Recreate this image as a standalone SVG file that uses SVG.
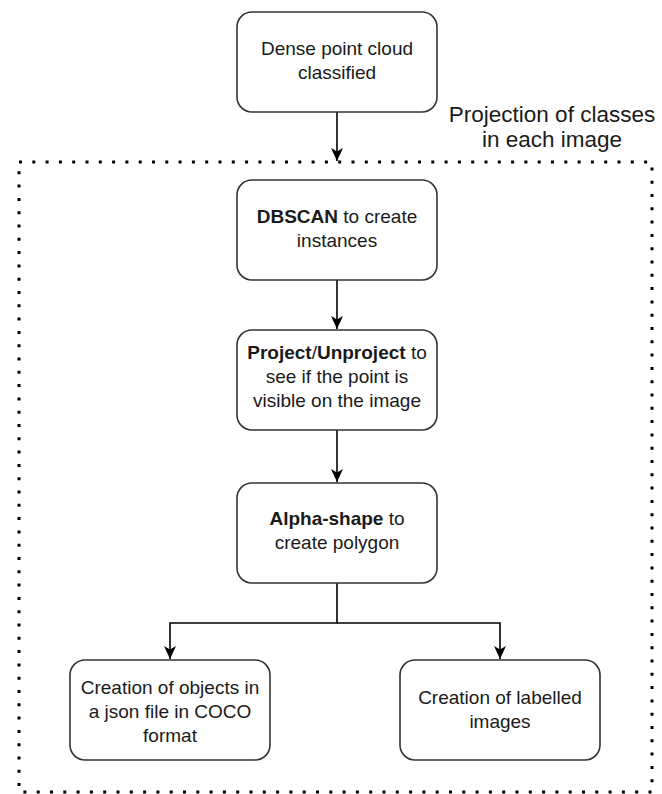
<svg xmlns="http://www.w3.org/2000/svg" width="662" height="794" viewBox="0 0 662 794">
  <style>
    .box { fill: #ffffff; stroke: #333333; stroke-width: 1.6; }
    .lbl { font-family: "Liberation Sans", Arial, sans-serif; font-size: 19px; fill: #1a1a1a; text-anchor: middle; }
    .title { font-family: "Liberation Sans", Arial, sans-serif; font-size: 22.5px; fill: #1a1a1a; text-anchor: middle; }
    .b { font-weight: bold; }
    .edge { fill: none; stroke: #000000; stroke-width: 1.6; }
    .frame { fill: none; stroke: #000000; stroke-width: 3; stroke-dasharray: 3 10.3; }
  </style>
  <defs>
    <marker id="arrow" markerUnits="userSpaceOnUse" markerWidth="14" markerHeight="14" viewBox="0 0 14 14" refX="13" refY="7" orient="auto">
      <path d="M0,1 L13,7 L0,13 L3.5,7 z" fill="#000000"/>
    </marker>
  </defs>

  <rect width="662" height="794" fill="#ffffff"/>

  <!-- group boundary: projection stage -->
  <g id="projection-frame">
    <rect class="frame" x="19" y="162" width="633" height="630"/>
    <text class="title" x="552" y="122">Projection of classes</text>
    <text class="title" x="552" y="147">in each image</text>
  </g>

  <!-- connectors -->
  <g id="connectors">
    <path class="edge" d="M337,112 V161" marker-end="url(#arrow)"/>
    <path class="edge" d="M337,280 V329" marker-end="url(#arrow)"/>
    <path class="edge" d="M337,430 V482" marker-end="url(#arrow)"/>
    <path class="edge" d="M337,583 V623 H170 V659" marker-end="url(#arrow)"/>
    <path class="edge" d="M337,623 H500 V659" marker-end="url(#arrow)"/>
  </g>

  <g id="dense-cloud">
    <rect class="box" x="237" y="12" width="200" height="100" rx="15"/>
    <text class="lbl" x="337" y="55">Dense point cloud</text>
    <text class="lbl" x="337" y="79">classified</text>
  </g>

  <g id="dbscan">
    <rect class="box" x="237" y="180" width="200" height="100" rx="15"/>
    <text class="lbl" x="337" y="223"><tspan class="b">DBSCAN</tspan> to create</text>
    <text class="lbl" x="337" y="247">instances</text>
  </g>

  <g id="project-unproject">
    <rect class="box" x="237" y="330" width="200" height="100" rx="15"/>
    <text class="lbl" x="337" y="359"><tspan class="b">Project</tspan>/<tspan class="b">Unproject</tspan> to</text>
    <text class="lbl" x="337" y="383">see if the point is</text>
    <text class="lbl" x="337" y="407">visible on the image</text>
  </g>

  <g id="alpha-shape">
    <rect class="box" x="237" y="483" width="200" height="100" rx="15"/>
    <text class="lbl" x="337" y="525"><tspan class="b">Alpha-shape</tspan> to</text>
    <text class="lbl" x="337" y="549">create polygon</text>
  </g>

  <g id="coco-json">
    <rect class="box" x="70" y="660" width="200" height="100" rx="15"/>
    <text class="lbl" x="170" y="694">Creation of objects in</text>
    <text class="lbl" x="170" y="718">a json file in COCO</text>
    <text class="lbl" x="170" y="742">format</text>
  </g>

  <g id="labelled-images">
    <rect class="box" x="400" y="660" width="200" height="100" rx="15"/>
    <text class="lbl" x="500" y="704">Creation of labelled</text>
    <text class="lbl" x="500" y="728">images</text>
  </g>
</svg>
